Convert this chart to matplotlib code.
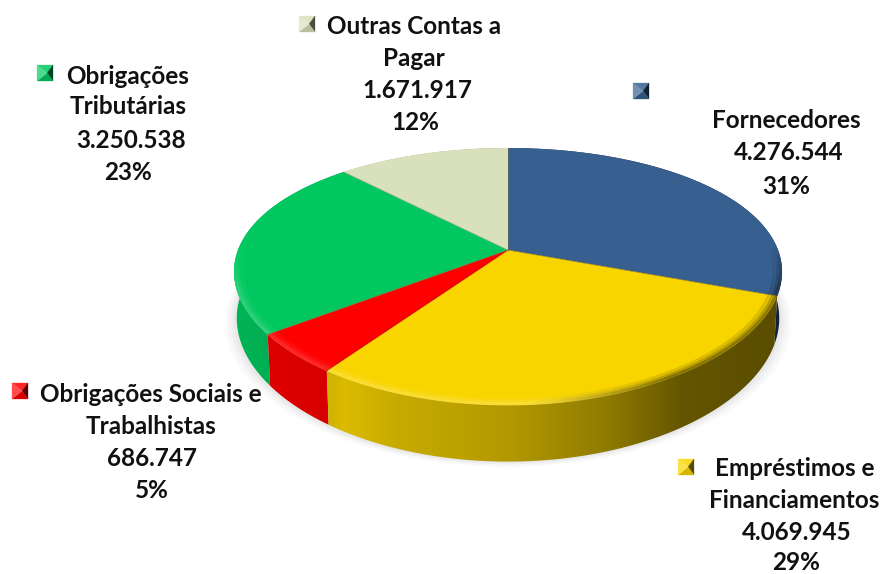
import numpy as np
import matplotlib
matplotlib.use("Agg")
import matplotlib.pyplot as plt
from matplotlib.patches import Polygon
from matplotlib.collections import LineCollection
from matplotlib.colors import to_rgb

names = ["Fornecedores", "Empréstimos e Financiamentos", "Obrigações Sociais e Trabalhistas",
         "Obrigações Tributárias", "Outras Contas a Pagar"]
values = [4276544, 4069945, 686747, 3250538, 1671917]
colors = ["#375F8F", "#F9D500", "#FF0000", "#00C85F", "#D8E0BC"]

label_lines = [
    ["Fornecedores", "4.276.544", "31%"],
    ["Empréstimos e", "Financiamentos", "4.069.945", "29%"],
    ["Obrigações Sociais e", "Trabalhistas", "686.747", "5%"],
    ["Obrigações", "Tributárias", "3.250.538", "23%"],
    ["Outras Contas a", "Pagar", "1.671.917", "12%"],
]
label_x = [[786, 789, 786], [795, 794, 797, 796], [151, 151, 152, 152],
           [128, 128, 131, 128], [414, 414, 417, 415]]
label_y = [[121, 153, 186], [469, 500, 532, 562], [395, 426, 459, 491],
           [76, 107, 140, 172], [27, 58, 90, 122]]
key_xy = [(641, 91), (686, 467), (20, 391), (45, 73), (307, 24)]

# perspective disc geometry, in pixels
CX, CY, A, B, KX, KY, D, SQ = 508.0, 250.0, 270.0, 123.0, 0.17, 0.206, 45.0, 0.99
# wall shading against position across the disc
shade_t = [0.00, 0.10, 0.18, 0.20, 0.30, 0.50, 0.68, 0.82, 1.00]
shade_v = [0.90, 0.86, 0.84, 0.88, 0.80, 0.72, 0.58, 0.40, 0.36]
X0, X1 = 233.0, 782.0


def project(theta, r=1.0):
    u, v = r * np.sin(theta), r * np.cos(theta)
    return CX + A * u / (1 + KX * v), CY - B * v / (1 + KY * v), 1 + KY * v


fig = plt.figure(figsize=(8.85, 5.74), dpi=100)
ax = fig.add_axes([0, 0, 1, 1])
plt.rcParams["font.family"] = ["Lato", "DejaVu Sans"]

total = sum(values)
edges = np.concatenate([[0], np.cumsum(values)]) / total * 2 * np.pi

# soft shadow below the disc
full = np.linspace(0, 2 * np.pi, 361)
xf, yf, wf = project(full)
for grow, alpha in zip([12, 9, 6, 3], [0.03, 0.04, 0.05, 0.06]):
    sx = CX + (xf - CX) * (SQ + grow / 273)
    sy = yf + D / wf + grow * 0.45
    ax.add_patch(Polygon(np.c_[sx, sy], fc="#808080", ec="none", alpha=alpha, zorder=1))

# side walls, back to front
order = sorted(range(len(values)), key=lambda i: -np.cos((edges[i] + edges[i + 1]) / 2))
tgrid = np.linspace(0, 1, 400)
sgrid = np.interp(tgrid, shade_t, shade_v)
for i in order:
    th = np.linspace(edges[i], edges[i + 1], 200)
    x, y, w = project(th)
    xb = CX + (x - CX) * SQ
    poly = np.r_[np.c_[x, y], np.c_[xb, y + D / w][::-1]]
    rgb = np.array(to_rgb(colors[i]))
    img = (sgrid[:, None] * rgb)[None, :, :]
    im = ax.imshow(img, extent=[X0, X1, 574, 0], aspect="auto", zorder=2 + (1 - np.cos(th.mean())) * 0.1,
                   interpolation="bilinear")
    patch = Polygon(poly, transform=ax.transData, fc="none", ec="none")
    ax.add_patch(patch)
    im.set_clip_path(patch)

# top surface
for i in range(len(values)):
    th = np.linspace(edges[i], edges[i + 1], 200)
    x, y, _ = project(th)
    pts = np.r_[[[CX, CY]], np.c_[x, y]]
    ax.add_patch(Polygon(pts, fc=colors[i], ec="none", zorder=3, antialiased=True))

# bevel along the rim
for i in range(len(values)):
    th = np.linspace(edges[i], edges[i + 1], 240)
    rgb = np.array(to_rgb(colors[i]))
    for r, lw, alpha in [(0.995, 2.2, 0.75), (0.985, 2.2, 0.45), (0.972, 2.2, 0.2)]:
        x, y, _ = project(th, r)
        t = np.clip((x - X0) / (X1 - X0), 0, 1)
        segs = np.stack([np.c_[x[:-1], y[:-1]], np.c_[x[1:], y[1:]]], axis=1)
        front = np.clip(-np.cos(th[:-1]) * 3 + 0.1, 0, 1)
        dark = np.clip((t[:-1] - 0.55) / 0.25, 0, 1)
        light = rgb + (1 - rgb) * 0.25
        shadowc = rgb * 0.4
        col = light[None, :] * (1 - dark[:, None]) + shadowc[None, :] * dark[:, None]
        a = alpha * front
        ax.add_collection(LineCollection(segs, colors=np.c_[col, a], linewidths=lw, zorder=4,
                                         capstyle="butt"))

# seams between slices
for e, c in zip(edges[:-1], ["#6A6A50", "#7A6A20", "#B00000", "#906030", "#A0A890"]):
    x, y, w = project(e)
    ax.plot([CX, x], [CY, y], color=c, lw=0.6, alpha=0.7, zorder=5)

# labels
for lines, xs, ys in zip(label_lines, label_x, label_y):
    for s, lx, ly in zip(lines, xs, ys):
        ax.text(lx, ly, s, ha="center", va="center", fontsize=17.5, fontweight="bold",
                color="#111111", zorder=6)

# bevelled legend keys
for (kx, ky), c in zip(key_xy, colors):
    rgb = np.array(to_rgb(c))
    h = 8
    corners = [(kx - h, ky - h), (kx + h, ky - h), (kx + h, ky + h), (kx - h, ky + h)]
    tones = [rgb + (1 - rgb) * 0.15, rgb * 0.35, rgb * 0.85, rgb + (1 - rgb) * 0.3]
    for j, tone in enumerate(tones):
        tri = [corners[j], corners[(j + 1) % 4], (kx + 2, ky)]
        ax.add_patch(Polygon(tri, fc=tone, ec=tone, lw=0.2, zorder=6))

ax.set_xlim(0, 885)
ax.set_ylim(574, 0)
ax.axis("off")
fig.savefig("out.png", dpi=100, facecolor="white")
